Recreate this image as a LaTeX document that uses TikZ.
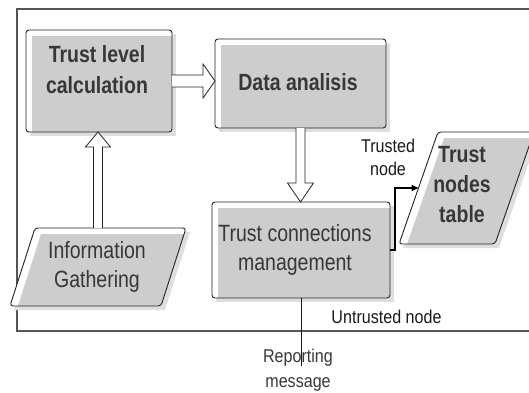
\documentclass[tikz,border=0pt]{standalone}
\usepackage{fontspec}
\setmainfont{Liberation Sans}[FakeStretch=0.83]
\newfontfamily\labelfont{Liberation Sans}[FakeStretch=0.87]
\usetikzlibrary{calc,arrows.meta}

\definecolor{panelgray}{RGB}{205,205,205}
\definecolor{panelshade}{RGB}{222,222,222}
\definecolor{panelink}{RGB}{35,35,35}
\definecolor{textink}{RGB}{55,55,55}
\definecolor{labelink}{RGB}{25,25,25}
\definecolor{framegray}{RGB}{85,85,85}

% a panel: soft shadow, white rim, grey face, thin dark border
\newcommand\panelshape[4]{%
  \fill[panelshade] ([shift={(4,4)}]#1) -- ([shift={(4,4)}]#2) -- ([shift={(4,4)}]#3) -- ([shift={(4,4)}]#4) -- cycle;
  \fill[white, rounded corners=3pt] (#1) -- (#2) -- (#3) -- (#4) -- cycle;
  \begin{scope}
    \clip[rounded corners=3pt] (#1) -- (#2) -- (#3) -- (#4) -- cycle;
    \fill[panelgray] ([shift={(6,6)}]#1) -- ([shift={(6,6)}]#2) -- ([shift={(6,6)}]#3) -- ([shift={(6,6)}]#4) -- cycle;
  \end{scope}
  \draw[panelborder, rounded corners=3pt] (#1) -- (#2) -- (#3) -- (#4) -- cycle;
}

\begin{document}
\begin{tikzpicture}[x=1pt, y=-1pt,
  slot/.style={draw=none, inner sep=0pt, outer sep=0pt},
  panelborder/.style={draw=panelink, line width=0.9pt},
  hollow/.style={fill=white, draw=panelink, line width=0.8pt, line join=miter},
  linkarrow/.style={draw=black, line width=1.5pt, -{Triangle[length=7pt,width=6pt]}},
  repline/.style={draw=labelink, line width=0.8pt},
  boxbold/.style={inner sep=0pt, text=textink, align=center, font=\fontsize{23.5}{31}\selectfont\bfseries},
  boxreg/.style={inner sep=0pt, text=textink, align=center, font=\fontsize{23.5}{28.5}\selectfont},
  smalllabel/.style={inner sep=0pt, text=labelink, align=center, font=\labelfont\fontsize{18.5}{23}\selectfont}]

\useasboundingbox (0,0) rectangle (529,392);
\clip (0,0) rectangle (529,392);

% enclosing frame
\draw[framegray, line width=1.3pt] (545,9) -- (17,9) -- (17,331) -- (545,331);

% placeholders carrying the panel geometry
\node[slot, minimum width=146pt, minimum height=102pt] (tlc) at (99,81) {};
\node[slot, minimum width=171pt, minimum height=89pt] (da) at (300.5,83.5) {};
\node[slot, minimum width=178pt, minimum height=96pt] (tcm) at (301,250) {};
\node[slot, minimum width=151pt, minimum height=78pt] (ig) at (98,267) {};
\node[slot, minimum width=96pt, minimum height=112pt] (tnt) at (466.5,188) {};

% slanted corners of the two data panels
\coordinate (ig-tl) at ([shift={(12.5,0)}]ig.north west);
\coordinate (ig-tr) at ([shift={(12.5,0)}]ig.north east);
\coordinate (ig-br) at ([shift={(-12.5,0)}]ig.south east);
\coordinate (ig-bl) at ([shift={(-12.5,0)}]ig.south west);
\coordinate (tnt-tl) at ([shift={(19.5,0)}]tnt.north west);
\coordinate (tnt-tr) at ([shift={(19.5,0)}]tnt.north east);
\coordinate (tnt-br) at ([shift={(-19.5,0)}]tnt.south east);
\coordinate (tnt-bl) at ([shift={(-19.5,0)}]tnt.south west);

\panelshape{tlc.north west}{tlc.north east}{tlc.south east}{tlc.south west}
\panelshape{da.north west}{da.north east}{da.south east}{da.south west}
\panelshape{tcm.north west}{tcm.north east}{tcm.south east}{tcm.south west}
\panelshape{ig-tl}{ig-tr}{ig-br}{ig-bl}
\panelshape{tnt-tl}{tnt-tr}{tnt-br}{tnt-bl}

% block arrows
\coordinate (tip1) at (da.west |- tlc.east);
\draw[hollow] ($(tlc.east)+(0,-6)$) -- ($(tip1)+(-12,-6)$) -- ($(tip1)+(-12,-17)$) -- (tip1)
  -- ($(tip1)+(-12,17)$) -- ($(tip1)+(-12,6)$) -- ($(tlc.east)+(0,6)$);

\coordinate (tip2) at (ig.north |- tlc.south);
\draw[hollow] ($(ig.north)+(-4.5,0)$) -- ($(tip2)+(-4.5,15)$) -- ($(tip2)+(-12.5,15)$) -- (tip2)
  -- ($(tip2)+(12.5,15)$) -- ($(tip2)+(4.5,15)$) -- ($(ig.north)+(4.5,0)$);

\coordinate (tip3) at (da.south |- tcm.north);
\draw[hollow] ($(da.south)+(-4.5,0)$) -- ($(tip3)+(-4.5,-19)$) -- ($(tip3)+(-13,-19)$) -- (tip3)
  -- ($(tip3)+(13,-19)$) -- ($(tip3)+(4.5,-19)$) -- ($(da.south)+(4.5,0)$);

% trusted nodes go to the table
\draw[linkarrow] (tcm.east) -- ++(5,0) |- (tnt.west);

% reporting message leaves the frame
\coordinate (rep-end) at (301,366);
\draw[repline] (tcm.south) -- (rep-end);

% texts
\node[boxbold] (tlc-t) at (97,70) {Trust level\\calculation};
\node[boxbold, anchor=base] (da-t) at (298,90) {Data analisis};
\node[boxreg] (tcm-t) at (295,250) {Trust connections\\management};
\node[boxreg, font=\fontsize{23.5}{29}\selectfont] (ig-t) at (97,266.5) {Information\\Gathering};
\node[boxbold, font=\fontsize{23.5}{30}\selectfont\bfseries] (tnt-t) at (462,184.5) {Trust\\nodes\\table};
\node[smalllabel] (trusted-t) at (388,157) {Trusted\\node};
\node[smalllabel, anchor=base] (untrusted-t) at (386.5,323) {Untrusted node};
\node[smalllabel, text=textink, font=\labelfont\fontsize{18.5}{25}\selectfont] (rep-t) at (298,370) {Reporting\\message};
\end{tikzpicture}
\end{document}
